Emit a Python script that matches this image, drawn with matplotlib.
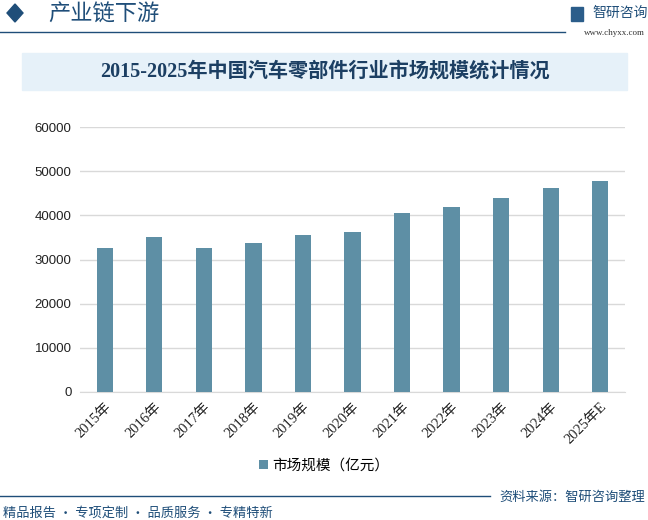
import matplotlib.pyplot as plt
from matplotlib.patches import Rectangle, Polygon

# data
years = ['2015年', '2016年', '2017年', '2018年', '2019年', '2020年',
         '2021年', '2022年', '2023年', '2024年', '2025年E']
market_size = [32500, 35200, 32500, 33800, 35600, 36300,
               40600, 41900, 43900, 46200, 47800]
yticks = [0, 10000, 20000, 30000, 40000, 50000, 60000]

bar_color = '#5e8fa5'
dark_blue = '#1f4e79'
cjk = ['Noto Sans CJK SC', 'DejaVu Sans']
serif_cjk = ['Liberation Serif', 'Noto Sans CJK SC']

fig = plt.figure(figsize=(6.48, 5.2), dpi=100)

# header
fig.patches.append(Polygon([[7/648, 1-13/520], [15/648, 1-4/520], [23/648, 1-13/520], [15/648, 1-22/520]],
                           closed=True, color=dark_blue, transform=fig.transFigure))
fig.text(48/648, 1-14/520, '产业链下游', fontsize=16, color=dark_blue, family=cjk,
         va='center', ha='left')
fig.add_artist(plt.Line2D([0, 565/648], [1-32/520, 1-32/520], color=dark_blue, lw=1,
                          transform=fig.transFigure))
fig.patches.append(Rectangle((571/648, 1-21/520), 12/648, 14/520, color='#2b5d8a',
                             transform=fig.transFigure))
fig.text(592/648, 1-13/520, '智研咨询', fontsize=10, color=dark_blue, family=cjk,
         va='center', ha='left')
fig.text(645/648, 1-33/520, 'www.chyxx.com', fontsize=6.5, color='#333333',
         family='Liberation Serif', va='center', ha='right')

# title box
fig.patches.append(Rectangle((22/648, 1-90/520), 605/648, 37/520, color='#e6f1f9',
                             transform=fig.transFigure))
fig.text(325/648, 1-72/520, '2015-2025年中国汽车零部件行业市场规模统计情况', fontsize=14.5,
         color='#1c3f63', family=serif_cjk, weight='bold', va='center', ha='center')

# chart
ax = fig.add_axes([80/648, 1-392/520, 545/648, 265/520])
x = range(len(years))
ax.bar(x, market_size, width=0.33, color=bar_color, label='市场规模（亿元）', zorder=3)
ax.set_ylim(0, 60000)
ax.set_xlim(-0.5, len(years) - 0.5)
ax.set_yticks(yticks)
ax.set_yticklabels([str(v) for v in yticks], family='Liberation Sans', fontsize=9.5, color='#222222')
ax.set_xticks(list(x))
ax.set_xticklabels(years, rotation=45, ha='right', rotation_mode='anchor',
                   family=serif_cjk, fontsize=10.5, color='#222222')
ax.grid(axis='y', color='#d9d9d9', lw=1, zorder=0)
for s in ['top', 'right', 'left']:
    ax.spines[s].set_visible(False)
ax.spines['bottom'].set_color('#d9d9d9')
ax.tick_params(length=0, pad=6)

leg = fig.legend(loc='center', bbox_to_anchor=(324/648, 1-466/520), frameon=False,
                 handlelength=0.6, handleheight=0.6, handletextpad=0.3,
                 prop={'family': cjk, 'size': 10.5})

# footer
fig.add_artist(plt.Line2D([0, 490/648], [1-496/520, 1-496/520], color=dark_blue, lw=1,
                          transform=fig.transFigure))
fig.text(645/648, 1-497/520, '资料来源：智研咨询整理', fontsize=9.5, color=dark_blue, family=cjk,
         va='center', ha='right')
fig.text(3/648, 1-513/520, '精品报告 · 专项定制 · 品质服务 · 专精特新', fontsize=9.5,
         color=dark_blue, family=cjk, va='center', ha='left')

plt.savefig('out.png', dpi=100)
